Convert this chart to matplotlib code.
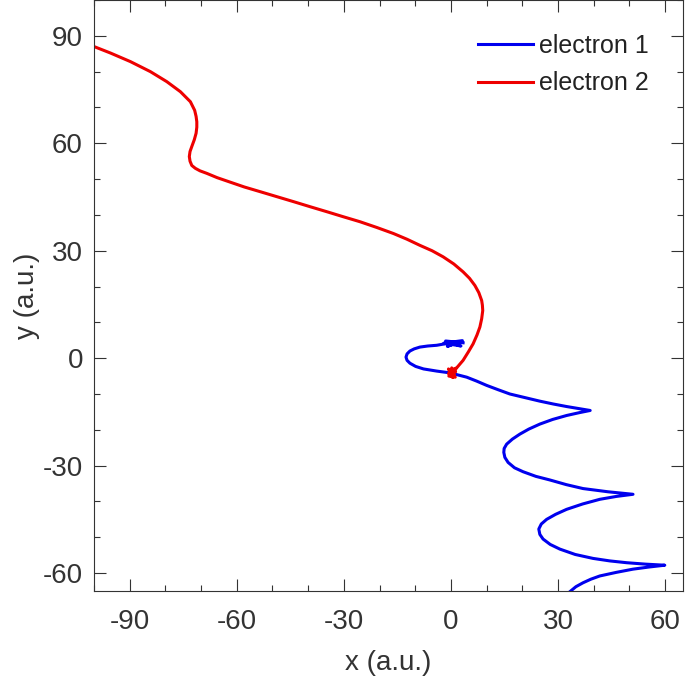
import matplotlib
matplotlib.use('Agg')
import matplotlib.pyplot as plt
from matplotlib.ticker import MultipleLocator

# trajectories (atomic units)
e1_x = [3.4, -1.5, 2.8, -2.0, 3.2, -1.0, 2.2, -2.3, -4.0, -6.5, -8.7, -10.3, -11.5, -12.3,
        -12.6, -12.3, -11.5, -9.9, -7.7, -4.0, -0.3, 4.4, 7.2, 10.0, 13.2, 16.5, 20.7, 24.9,
        28.7, 32.4, 36.0, 39.0, 36.0, 32.4, 28.5, 24.9, 21.8, 19.3, 17.2, 15.6, 14.9, 14.8,
        15.1, 16.0, 17.8, 20.2, 23.8, 27.7, 32.3, 37.0, 44.0, 51.0, 46.3, 41.7, 36.9, 32.4,
        29.3, 26.8, 25.3, 24.6, 24.9, 25.8, 27.8, 30.5, 34.8, 39.8, 44.5, 49.2, 54.5, 59.9,
        55.5, 51.0, 46.3, 41.7, 39.2, 37.0, 35.0, 33.3]
e1_y = [4.3, 4.8, 3.4, 4.2, 4.9, 3.3, 4.5, 3.9, 3.6, 3.4, 3.1, 2.6, 2.0, 1.2,
        0.3, -0.6, -1.4, -2.3, -3.0, -3.6, -4.1, -5.3, -6.4, -7.6, -8.8, -10.0, -11.0, -12.0,
        -12.8, -13.5, -14.1, -14.6, -15.2, -16.0, -17.1, -18.4, -19.8, -21.2, -22.6, -24.0, -25.2, -26.3,
        -27.7, -29.1, -30.6, -31.7, -33.0, -34.0, -35.3, -36.4, -37.3, -38.0, -38.6, -39.4, -40.7, -42.2,
        -43.6, -45.0, -46.3, -47.7, -49.2, -50.5, -52.0, -53.3, -54.8, -55.9, -56.6, -57.1, -57.5, -57.8,
        -58.3, -58.9, -59.8, -60.8, -61.7, -62.7, -63.8, -65.2]

e2_x = [0.3, -0.7, 1.2, -0.6, 1.4, -0.5, 1.0, 0.2, 0.5, -0.7, 1.3, 0.3, 1.0,
        2.2, 3.4, 4.9, 6.2, 7.3, 8.1, 8.6, 8.9, 8.8,
        8.6, 7.8, 6.7, 5.2, 3.4, 0.8, -2.2, -5.3, -8.7, -12.3, -16.1, -20.8, -25.5, -30.2,
        -34.8, -39.5, -44.1, -48.8, -53.5, -57.9, -62.0, -65.5, -68.4, -70.3, -71.6, -72.6,
        -73.1, -73.3, -73.1, -72.6, -71.9, -71.4, -71.2, -71.2, -71.4, -71.8, -73.0, -75.8,
        -79.6, -84.2, -89.8, -95.4, -100.5]
e2_y = [-4.0, -3.0, -5.3, -5.0, -2.8, -3.6, -4.9, -2.7, -5.4, -4.3, -3.8, -3.2, -3.4,
        -2.0, -0.6, 1.8, 4.0, 6.5, 8.7, 11.0, 13.3, 14.8,
        16.1, 18.3, 20.3, 22.3, 24.1, 26.3, 28.3, 30.0, 31.5, 33.2, 34.8, 36.5, 38.1, 39.5,
        40.9, 42.3, 43.7, 45.1, 46.5, 47.8, 49.2, 50.4, 51.6, 52.3, 53.0, 53.8,
        55.0, 56.3, 57.7, 59.1, 61.0, 62.8, 64.5, 66.0, 67.5, 69.2, 71.6, 74.4,
        77.2, 80.0, 82.8, 85.2, 87.2]

grey = '#333333'
plt.rcParams['font.family'] = ['Liberation Sans', 'DejaVu Sans']
plt.rcParams['axes.unicode_minus'] = False

fig = plt.figure(figsize=(6.85, 6.85), dpi=100)
ax = fig.add_axes([94 / 685, 94 / 685, 589 / 685, 591 / 685])

ax.plot(e1_x, e1_y, color='#0000ee', linewidth=2.2, solid_joinstyle='round', label='electron 1')
ax.plot(e2_x, e2_y, color='#ee0000', linewidth=2.2, solid_joinstyle='round', label='electron 2')

ax.set_xlim(-100, 65)
ax.set_ylim(-65, 100)
ax.xaxis.set_major_locator(MultipleLocator(30))
ax.yaxis.set_major_locator(MultipleLocator(30))
ax.xaxis.set_minor_locator(MultipleLocator(10))
ax.yaxis.set_minor_locator(MultipleLocator(10))
ax.tick_params(which='both', direction='in', top=True, right=True, color=grey,
               width=0.8, labelsize=20, labelcolor=grey)
ax.tick_params(which='major', length=8.6)
ax.tick_params(which='minor', length=4.5)
ax.tick_params(axis='x', which='major', pad=13)
ax.tick_params(axis='y', which='major', pad=8)
for s in ax.spines.values():
    s.set_color(grey)
    s.set_linewidth(0.8)

ax.set_xlabel('x (a.u.)', fontsize=20, color=grey, labelpad=11)
ax.set_ylabel('y (a.u.)', fontsize=20, color=grey, labelpad=2)

ax.legend(loc='upper left', bbox_to_anchor=(0.652, 0.943), frameon=False, fontsize=18,
          handlelength=2.2, handletextpad=0.22, labelspacing=0.55, borderpad=0, borderaxespad=0,
          labelcolor='#222222')

fig.savefig('out.png', dpi=100)
